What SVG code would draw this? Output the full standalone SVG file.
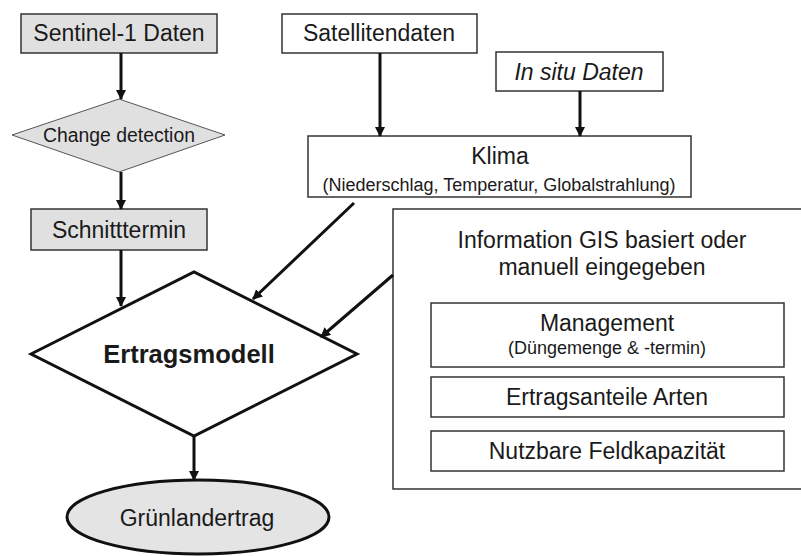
<svg xmlns="http://www.w3.org/2000/svg" width="801" height="556" viewBox="0 0 801 556">
<defs>
<style>
text{font-family:"Liberation Sans",Arial,sans-serif;fill:#1a1a1a;text-anchor:middle}
.box{fill:#fff;stroke:#333;stroke-width:1.5}
.gray{fill:#e0e0e0;stroke:#333;stroke-width:1.5}
.conn{stroke:#111;stroke-width:3;fill:none;marker-end:url(#ah)}
.t{font-size:23px}
.sm{font-size:18px}
</style>
<marker id="ah" markerWidth="10" markerHeight="10" refX="9" refY="5" orient="auto" markerUnits="userSpaceOnUse">
<path d="M0,0 L10,5 L0,10 Z" fill="#111"/>
</marker>
</defs>
<rect width="801" height="556" fill="#fff"/>

<g id="sentinel">
<rect class="gray" x="21" y="14" width="196" height="39"/>
<text class="t" x="119" y="41">Sentinel-1 Daten</text>
</g>
<g id="change">
<polygon points="12,135 119,99 225,135 119,172" fill="#e0e0e0" stroke="#555" stroke-width="1"/>
<text x="119" y="142" font-size="19.4">Change detection</text>
</g>
<g id="schnitt">
<rect class="gray" x="31" y="209" width="176" height="41"/>
<text class="t" x="119" y="238">Schnitttermin</text>
</g>
<g id="satellit">
<rect class="box" x="282" y="14" width="195" height="39"/>
<text class="t" x="379" y="41">Satellitendaten</text>
</g>
<g id="insitu">
<rect class="box" x="496" y="52" width="167" height="39"/>
<text class="t" x="579" y="80" font-style="italic">In situ Daten</text>
</g>
<g id="klima">
<rect class="box" x="308" y="136" width="383" height="61"/>
<text class="t" x="500" y="164">Klima</text>
<text class="sm" x="499" y="191">(Niederschlag, Temperatur, Globalstrahlung)</text>
</g>
<g id="info">
<path d="M803,209 H393 V489 H803" fill="#fff" stroke="#333" stroke-width="1.5"/>
<text class="t" x="602" y="248">Information GIS basiert oder</text>
<text class="t" x="602" y="275">manuell eingegeben</text>
</g>
<g id="management">
<rect class="box" x="431" y="303" width="353" height="64"/>
<text class="t" x="607" y="331">Management</text>
<text class="sm" x="607" y="354">(Düngemenge &amp; -termin)</text>
</g>
<g id="arten">
<rect class="box" x="431" y="377" width="353" height="40"/>
<text class="t" x="607" y="405">Ertragsanteile Arten</text>
</g>
<g id="feld">
<rect class="box" x="431" y="431" width="353" height="40"/>
<text class="t" x="607" y="459">Nutzbare Feldkapazität</text>
</g>
<g id="ertrag">
<polygon points="31,354 194,272 357,354 194,436" fill="#fff" stroke="#111" stroke-width="3"/>
<text x="189" y="363" font-size="25.5" font-weight="bold">Ertragsmodell</text>
</g>
<g id="gruen">
<ellipse cx="198" cy="517" rx="131" ry="37" fill="#e4e4e4" stroke="#111" stroke-width="3"/>
<text class="t" x="197" y="526">Grünlandertrag</text>
</g>

<g id="connectors">
<line class="conn" x1="121" y1="53" x2="121" y2="99"/>
<line class="conn" x1="121" y1="172" x2="121" y2="209"/>
<line class="conn" x1="121" y1="250" x2="121" y2="306"/>
<line class="conn" x1="380" y1="53" x2="380" y2="136"/>
<line class="conn" x1="580" y1="91" x2="580" y2="136"/>
<line class="conn" x1="354" y1="203" x2="253" y2="299"/>
<line class="conn" x1="393" y1="275" x2="321" y2="337"/>
<line class="conn" x1="194" y1="436" x2="194" y2="480"/>
</g>
</svg>
